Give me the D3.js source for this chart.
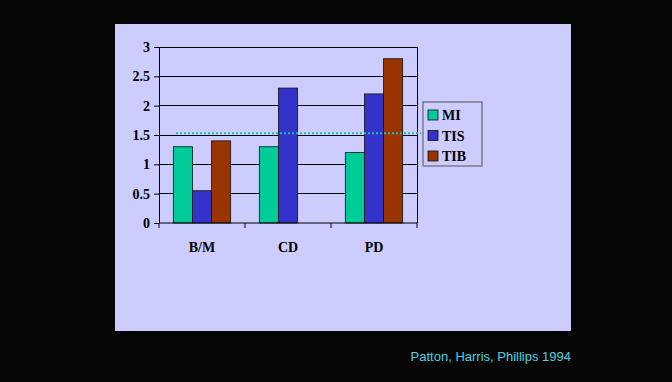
<!DOCTYPE html>
<html><head><meta charset="utf-8">
<script src="https://cdn.jsdelivr.net/npm/d3@7"></script>
<style>body{margin:0;background:#060606;}svg{display:block;}</style>
</head><body>
<svg id="c" width="672" height="382"></svg>
<script>
const categories = ["B/M", "CD", "PD"];
const seriesNames = ["MI", "TIS", "TIB"];
const MI = [1.3, 1.3, 1.2];
const TIS = [0.55, 2.3, 2.2];
const TIB = [1.4, null, 2.8];
const yTicks = [0, 0.5, 1, 1.5, 2, 2.5, 3];
const refValue = 1.53;
const colors = ["#00cc99", "#3333cc", "#993300"];
const credit = "Patton, Harris, Phillips 1994";

const series = [MI, TIS, TIB];
const svg = d3.select("#c");
svg.append("rect").attr("width", 672).attr("height", 382).attr("fill", "#060606");
svg.append("rect").attr("x", 115).attr("y", 24).attr("width", 456).attr("height", 307).attr("fill", "#ccccff");

const L = 159, R = 417, T = 47, B = 223;
const x = d3.scaleBand().domain(categories).range([L, R]).paddingInner(0).paddingOuter(0);
const y = d3.scaleLinear().domain([0, 3]).range([B, T]);
const bw = x.bandwidth() / 4.5;
const x1 = d3.scaleBand().domain(seriesNames).range([0, bw * 3]);

const serif = "'Liberation Serif','Times New Roman',serif";

// gridlines
svg.append("g").selectAll("line").data(yTicks.filter(d => d > 0)).join("line")
  .attr("x1", L).attr("x2", R).attr("y1", d => y(d)).attr("y2", d => y(d))
  .attr("stroke", "#000").attr("stroke-width", 1).attr("shape-rendering", "crispEdges");
// right border
svg.append("line").attr("x1", R).attr("x2", R).attr("y1", T).attr("y2", B)
  .attr("stroke", "#000").attr("shape-rendering", "crispEdges");

// bars
const g = svg.append("g");
series.forEach((s, si) => {
  g.selectAll(null).data(categories.map((c, i) => ({c, v: s[i]})).filter(d => d.v != null)).join("rect")
    .attr("x", d => x(d.c) + bw * 0.75 + x1(seriesNames[si]))
    .attr("y", d => y(d.v))
    .attr("width", x1.bandwidth())
    .attr("height", d => B - y(d.v))
    .attr("fill", colors[si]).attr("stroke", "#111").attr("stroke-width", 0.8);
});

// y axis
const ya = svg.append("g").attr("transform", `translate(${L},0)`)
  .call(d3.axisLeft(y).tickValues(yTicks).tickSize(5).tickPadding(4).tickFormat(d3.format("")));
ya.select(".domain").attr("stroke", "#000");
ya.selectAll("line").attr("stroke", "#000");
ya.selectAll("text").attr("font-family", serif).attr("font-weight", "bold").attr("font-size", 14).attr("fill", "#000");

// x axis
const xa = svg.append("g").attr("transform", `translate(0,${B})`)
  .call(d3.axisBottom(x).tickSize(0).tickPadding(19));
xa.select(".domain").attr("stroke", "#000").attr("d", `M${L},0H${R}`);
xa.selectAll("text").attr("font-family", serif).attr("font-weight", "bold").attr("font-size", 14).attr("fill", "#000");
svg.append("g").selectAll("line").data(d3.range(categories.length + 1)).join("line")
  .attr("x1", i => L + i * x.step()).attr("x2", i => L + i * x.step())
  .attr("y1", B).attr("y2", B + 5).attr("stroke", "#000");

// reference dotted line
svg.append("line").attr("x1", 176).attr("x2", 421).attr("y1", y(refValue)).attr("y2", y(refValue))
  .attr("stroke", "#22bbaa").attr("stroke-width", 2).attr("stroke-dasharray", "2,2");

// legend
const lg = svg.append("g").attr("transform", "translate(423,102)");
lg.append("rect").attr("width", 59).attr("height", 64).attr("fill", "#ccccff").attr("stroke", "#555").attr("stroke-width", 1);
seriesNames.forEach((n, i) => {
  const yy = 13 + i * 20.5;
  lg.append("rect").attr("x", 5).attr("y", yy - 5).attr("width", 10).attr("height", 10)
    .attr("fill", colors[i]).attr("stroke", "#111").attr("stroke-width", 0.8);
  lg.append("text").attr("x", 19).attr("y", yy + 5).text(n)
    .attr("font-family", serif).attr("font-weight", "bold").attr("font-size", 14).attr("fill", "#000");
});

// credit
svg.append("text").attr("x", 571).attr("y", 361).attr("text-anchor", "end").text(credit)
  .attr("font-family", "'Liberation Sans',Arial,sans-serif").attr("font-size", 13).attr("fill", "#44d4e0");
</script>
</body></html>
